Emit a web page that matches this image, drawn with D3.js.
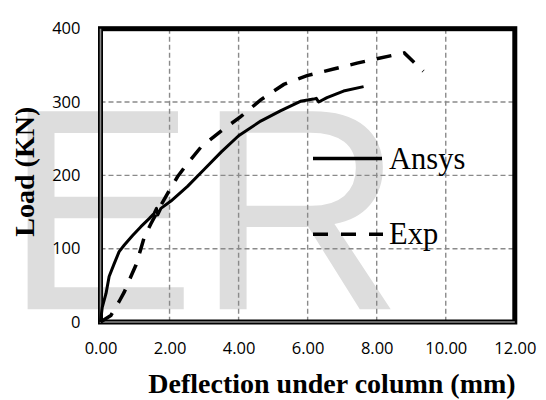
<!DOCTYPE html>
<html><head><meta charset="utf-8">
<script src="https://cdn.jsdelivr.net/npm/d3@7/dist/d3.min.js"></script>
<style>body{margin:0;background:#fff}</style>
</head><body>
<svg id="c" width="546" height="400"></svg>
<script>
// ---- data ----
const seriesNames = ["Ansys", "Exp"];
const ansysX = [0, 0.05, 0.16, 0.25, 0.40, 0.54, 0.69, 0.93, 1.17, 1.41, 1.55, 1.62, 1.66, 1.75, 2.04, 2.52, 3.00, 3.50, 4.00, 4.64, 5.21, 5.79, 6.17, 6.25, 6.32, 6.56, 7.04, 7.62];
const ansysY = [0, 20, 39, 62, 80, 96, 105, 118, 130, 141, 148, 155, 146, 155, 165, 185, 208, 232, 254, 274, 288, 301, 304, 305, 300, 306, 315, 321];
const expX = [0, 0.30, 0.54, 0.69, 0.88, 1.03, 1.17, 1.27, 1.46, 1.70, 2.00, 2.23, 2.50, 2.90, 3.48, 4.06, 4.64, 5.31, 5.98, 6.75, 7.43, 8.00, 8.50, 8.80, 9.35];
const expY = [0, 9, 28, 41, 62, 78, 100, 116, 134, 155, 180, 198, 215, 238, 260, 280, 303, 324, 336, 345, 353, 359, 364, 367, 342];
const xTickValues = [0, 2, 4, 6, 8, 10, 12];
const yTickValues = [0, 100, 200, 300, 400];
const xTitle = "Deflection under column (mm)";
const yTitle = "Load (KN)";
const watermarkText = "ER";

// ---- layout ----
const svg = d3.select("#c");
const L = 100.5, R = 514.8, T = 28.7, B = 322;
const x = d3.scaleLinear().domain([0, 12]).range([L, R]);
const y = d3.scaleLinear().domain([0, 400]).range([B, T]);

// watermark
svg.append("text").attr("x", 4).attr("y", 309.3)
  .attr("font-family", "'Liberation Sans', Arial, sans-serif")
  .attr("font-size", 288).attr("fill", "#dddddd").text(watermarkText);

// gridlines
const grid = svg.append("g").attr("stroke", "#8a8a8a").attr("stroke-width", 1.4).attr("stroke-dasharray", "5,3");
grid.selectAll("line.v").data(xTickValues.filter(d => d > 0 && d < 12)).join("line")
  .attr("class", "v")
  .attr("x1", d => x(d)).attr("x2", d => x(d)).attr("y1", T).attr("y2", B);
grid.selectAll("line.h").data(yTickValues.filter(d => d > 0 && d < 400)).join("line")
  .attr("class", "h")
  .attr("y1", d => y(d)).attr("y2", d => y(d)).attr("x1", L).attr("x2", R);

// axes labels via d3 axes
const xAxis = svg.append("g").attr("transform", `translate(0,${B})`)
  .call(d3.axisBottom(x).tickValues(xTickValues).tickFormat(d => d.toFixed(2)).tickSize(0).tickPadding(20));
xAxis.select(".domain").remove();
xAxis.selectAll("text").attr("font-family", "'Open Sans', sans-serif").attr("font-size", 16.5).attr("fill", "#000");

const yAxis = svg.append("g").attr("transform", `translate(${L},0)`)
  .call(d3.axisLeft(y).tickValues(yTickValues).tickFormat(d3.format("d")).tickSize(0).tickPadding(20));
yAxis.select(".domain").remove();
yAxis.selectAll("text").attr("font-family", "'Open Sans', sans-serif").attr("font-size", 16.5).attr("fill", "#000");

// border
svg.append("rect").attr("x", L).attr("y", T).attr("width", R - L).attr("height", B - T)
  .attr("fill", "none").attr("stroke", "#000").attr("stroke-width", 5);
svg.append("path").attr("d", `M${L},${T} V${B} H${R}`).attr("fill", "none")
  .attr("stroke", "#8a8a8a").attr("stroke-width", 1.6);

// series
const line = d3.line().x(d => x(d[0])).y(d => y(d[1]));
const ansys = ansysX.map((v, i) => [v, ansysY[i]]);
const exp = expX.map((v, i) => [v, expY[i]]);
svg.append("path").datum(ansys).attr("d", line).attr("fill", "none")
  .attr("stroke", "#000").attr("stroke-width", 3).attr("stroke-linejoin", "round");
svg.append("path").datum(exp).attr("d", line).attr("fill", "none")
  .attr("stroke", "#000").attr("stroke-width", 3.5).attr("stroke-dasharray", "15,12");

// legend
const lg = svg.append("g");
lg.append("line").attr("x1", 313).attr("x2", 382).attr("y1", 158.5).attr("y2", 158.5)
  .attr("stroke", "#000").attr("stroke-width", 3.3);
lg.append("line").attr("x1", 313).attr("x2", 383).attr("y1", 234.3).attr("y2", 234.3)
  .attr("stroke", "#000").attr("stroke-width", 3.5).attr("stroke-dasharray", "15,13");
lg.append("text").attr("x", 389).attr("y", 168.5).attr("font-family", "'Liberation Serif', 'Times New Roman', serif")
  .attr("font-size", 30.5).text(seriesNames[0]);
lg.append("text").attr("x", 389).attr("y", 244).attr("font-family", "'Liberation Serif', 'Times New Roman', serif")
  .attr("font-size", 30.5).text(seriesNames[1]);

// axis titles
svg.append("text").attr("x", 332).attr("y", 393).attr("text-anchor", "middle")
  .attr("font-family", "'Liberation Serif', 'Times New Roman', serif").attr("font-weight", "bold")
  .attr("font-size", 28).text(xTitle);
svg.append("text").attr("transform", "translate(34,171.7) rotate(-90)").attr("text-anchor", "middle")
  .attr("font-family", "'Liberation Serif', 'Times New Roman', serif").attr("font-weight", "bold")
  .attr("font-size", 28).text(yTitle);
</script>
</body></html>
